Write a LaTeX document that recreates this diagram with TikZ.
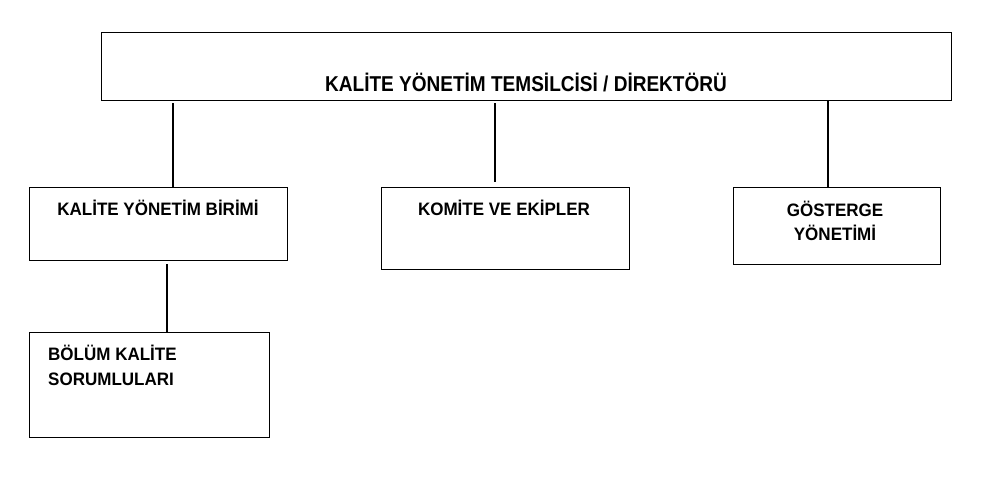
\documentclass[tikz,border=0pt]{standalone}
\usepackage{graphicx}
\usepackage{fontspec}
\setmainfont{Liberation Sans}
\newcommand\narrowtxt[2]{\scalebox{#1}[1]{#2}}
\begin{document}
\begin{tikzpicture}[x=1pt,y=-1pt,
  boxx/.style={draw=black,line width=1.2pt,rectangle,inner sep=0pt,anchor=north west},
  lbl/.style={font=\bfseries\fontsize{18}{24}\selectfont,inner sep=0pt},
  bigl/.style={font=\bfseries\fontsize{21.5}{26}\selectfont,inner sep=0pt},
  conn/.style={draw=black,line width=2pt}]
\useasboundingbox[fill=white] (0,0) rectangle (1000,479);
\node[boxx,minimum width=850pt,minimum height=68pt] (top) at (101,32) {};
\node[boxx,minimum width=258pt,minimum height=73pt] (kyb) at (29,187) {};
\node[boxx,minimum width=248pt,minimum height=82pt] (kom) at (381,187) {};
\node[boxx,minimum width=207pt,minimum height=77pt] (gos) at (733,187) {};
\node[boxx,minimum width=240pt,minimum height=105pt] (bol) at (29,332) {};
\node[bigl,anchor=base] (tt) at (526,91) {\narrowtxt{0.885}{KALİTE YÖNETİM TEMSİLCİSİ / DİREKTÖRÜ}};
\node[lbl,anchor=base] (t1) at (158,215) {\narrowtxt{0.945}{KALİTE YÖNETİM BİRİMİ}};
\node[lbl,anchor=base] (t2) at (504,215) {\narrowtxt{0.945}{KOMİTE VE EKİPLER}};
\node[lbl,anchor=base] (t3) at (835,216) {\narrowtxt{0.945}{GÖSTERGE}};
\node[lbl,anchor=base] (t4) at (835,240) {\narrowtxt{0.945}{YÖNETİMİ}};
\node[lbl,anchor=base west] (t5) at (48,360) {\narrowtxt{0.945}{BÖLÜM KALİTE}};
\node[lbl,anchor=base west] (t6) at (48,385) {\narrowtxt{0.945}{SORUMLULARI}};
\coordinate (a1) at (173,103);
\coordinate (a2) at (495,103);
\coordinate (a3) at (828,100);
\coordinate (a4) at (167,264);
\draw[conn] (a1) -- (a1 |- kyb.north);
\draw[conn] (a2) -- ([yshift=5pt]a2 |- kom.north);
\draw[conn] (a3) -- (a3 |- gos.north);
\draw[conn] (a4) -- (a4 |- bol.north);
\end{tikzpicture}
\end{document}
